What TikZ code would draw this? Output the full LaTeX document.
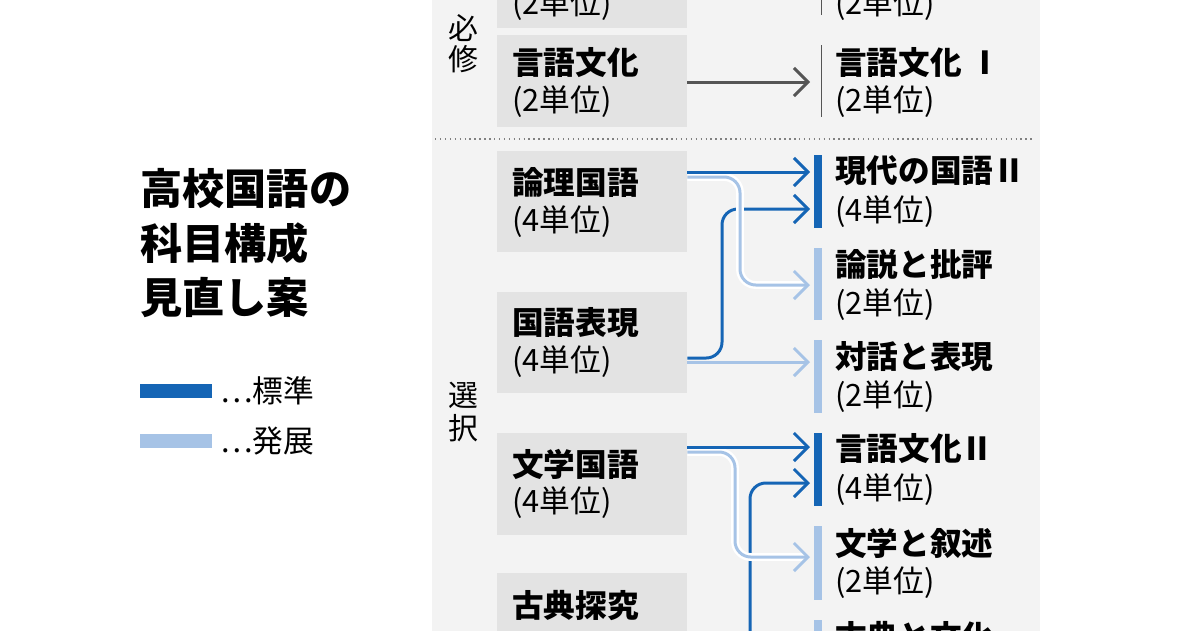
\documentclass[tikz,border=0pt]{standalone}
\usepackage{fontspec}
\setmainfont{Noto Sans CJK JP}
\usetikzlibrary{arrows.meta}
\definecolor{dkb}{HTML}{1565B5}
\definecolor{ltb}{HTML}{A6C3E6}
\definecolor{panelg}{HTML}{F3F3F3}
\definecolor{boxg}{HTML}{E3E3E3}
\definecolor{arrg}{HTML}{555555}
\tikzset{
  lbox/.style={fill=boxg,minimum width=3.8cm,inner sep=0pt},
  subj/.style={anchor=west,inner sep=0pt,font=\fontsize{18}{18}\selectfont\bfseries},
  unitlbl/.style={anchor=west,inner sep=0pt,font=\fontsize{17.5}{17.5}\selectfont},
  sidelbl/.style={inner sep=0pt,font=\fontsize{17}{17}\selectfont},
  titlelbl/.style={anchor=west,inner sep=0pt,font=\fontsize{24}{24}\selectfont\bfseries},
  conn/.style={line width=1.7pt,-{Straight Barb[length=8pt,width=16pt,line width=1.7pt]}},
  halo/.style={preaction={draw=white,line width=4.5pt}}
}
\begin{document}
\begin{tikzpicture}[x=0.02cm,y=-0.02cm]
\useasboundingbox (0,0) rectangle (1200,630);
\clip (0,0) rectangle (1200,630);
\fill[white] (0,0) rectangle (1200,630);
\fill[panelg] (432,-10) rectangle (1040,640);

% title and legend
\node[titlelbl] (title1) at (140,188) {高校国語の};
\node[titlelbl] (title2) at (140,243) {科目構成};
\node[titlelbl] (title3) at (140,298) {見直し案};
\fill[dkb] (140,384) rectangle (212,398);
\fill[ltb] (140,434) rectangle (212,448);
\node[unitlbl] (leg1) at (220,391) {…標準};
\node[unitlbl] (leg2) at (220,441) {…発展};

% side labels
\node[sidelbl] (hi) at (463,28) {必};
\node[sidelbl] (shu) at (463,59) {修};
\node[sidelbl] (sen) at (463,395) {選};
\node[sidelbl] (taku) at (463,428) {択};
\draw[dotted,thick,gray] (435,139) -- (1035,139);

% left boxes
\node[lbox,minimum height=1.76cm] (kokugo) at (592,-16) {};
\node[lbox,minimum height=1.84cm] (gengo) at (592,81) {};
\node[lbox,minimum height=2.02cm] (ronri) at (592,201) {};
\node[lbox,minimum height=2.02cm] (hyogen) at (592,342) {};
\node[lbox,minimum height=2.04cm] (bungaku) at (592,484) {};
\node[lbox,minimum height=2.04cm] (koten) at (592,624) {};
\node[unitlbl] at (512,5) {(2単位)};
\node[subj] at (512,63) {言語文化};
\node[unitlbl] at (512,102) {(2単位)};
\node[subj] at (512,182) {論理国語};
\node[unitlbl] at (512,222) {(4単位)};
\node[subj] at (512,323) {国語表現};
\node[unitlbl] at (512,362) {(4単位)};
\node[subj] at (512,464) {文学国語};
\node[unitlbl] at (512,503) {(4単位)};
\node[subj] at (512,605) {古典探究};

% right items
\draw[arrg] (821,-20) -- (821,15);
\draw[arrg] (821,45) -- (821,117);
\fill[dkb] (814,155) rectangle (822,228);
\fill[ltb] (814,248) rectangle (822,320);
\fill[ltb] (814,340) rectangle (822,413);
\fill[dkb] (814,433) rectangle (822,506);
\fill[ltb] (814,526) rectangle (822,600);
\fill[ltb] (814,620) rectangle (822,640);
\node[unitlbl] at (835,5) {(2単位)};
\node[subj] at (835,63) {言語文化 Ⅰ};
\node[unitlbl] at (835,102) {(2単位)};
\node[subj] at (835,171) {現代の国語Ⅱ};
\node[unitlbl] at (835,212) {(4単位)};
\node[subj] at (835,265) {論説と批評};
\node[unitlbl] at (835,305) {(2単位)};
\node[subj] at (835,357) {対話と表現};
\node[unitlbl] at (835,397) {(2単位)};
\node[subj] at (835,449) {言語文化Ⅱ};
\node[unitlbl] at (835,490) {(4単位)};
\node[subj] at (835,543) {文学と叙述};
\node[unitlbl] at (835,583) {(2単位)};
\node[subj] at (835,636) {古典と文化};

% arrow ends
\coordinate (tgengo) at (810,82);
\coordinate (tgendai1) at (810,172);
\coordinate (tgendai2) at (810,209);
\coordinate (tronsetsu) at (810,285);
\coordinate (ttaiwa) at (810,362);
\coordinate (tgengo1) at (810,447);
\coordinate (tgengo2) at (810,483);
\coordinate (tbungei) at (810,557);
\coordinate (kotenbot) at (750,640);

\draw[conn,arrg] (gengo.east |- tgengo) -- (tgengo);
\draw[conn,dkb,rounded corners=9pt] (hyogen.east |- 0,358) -| (722,209) -- (tgendai2);
\draw[conn,dkb,rounded corners=9pt] (kotenbot) |- (tgengo2);
\draw[conn,ltb,halo,rounded corners=9pt] (ronri.east |- 0,177) -| (740,285) -- (tronsetsu);
\draw[conn,ltb] (hyogen.east |- ttaiwa) -- (ttaiwa);
\draw[conn,ltb,halo,rounded corners=9pt] (bungaku.east |- 0,452) -| (735,557) -- (tbungei);
\draw[conn,dkb] (ronri.east |- tgendai1) -- (tgendai1);
\draw[conn,dkb] (bungaku.east |- tgengo1) -- (tgengo1);
\end{tikzpicture}
\end{document}
